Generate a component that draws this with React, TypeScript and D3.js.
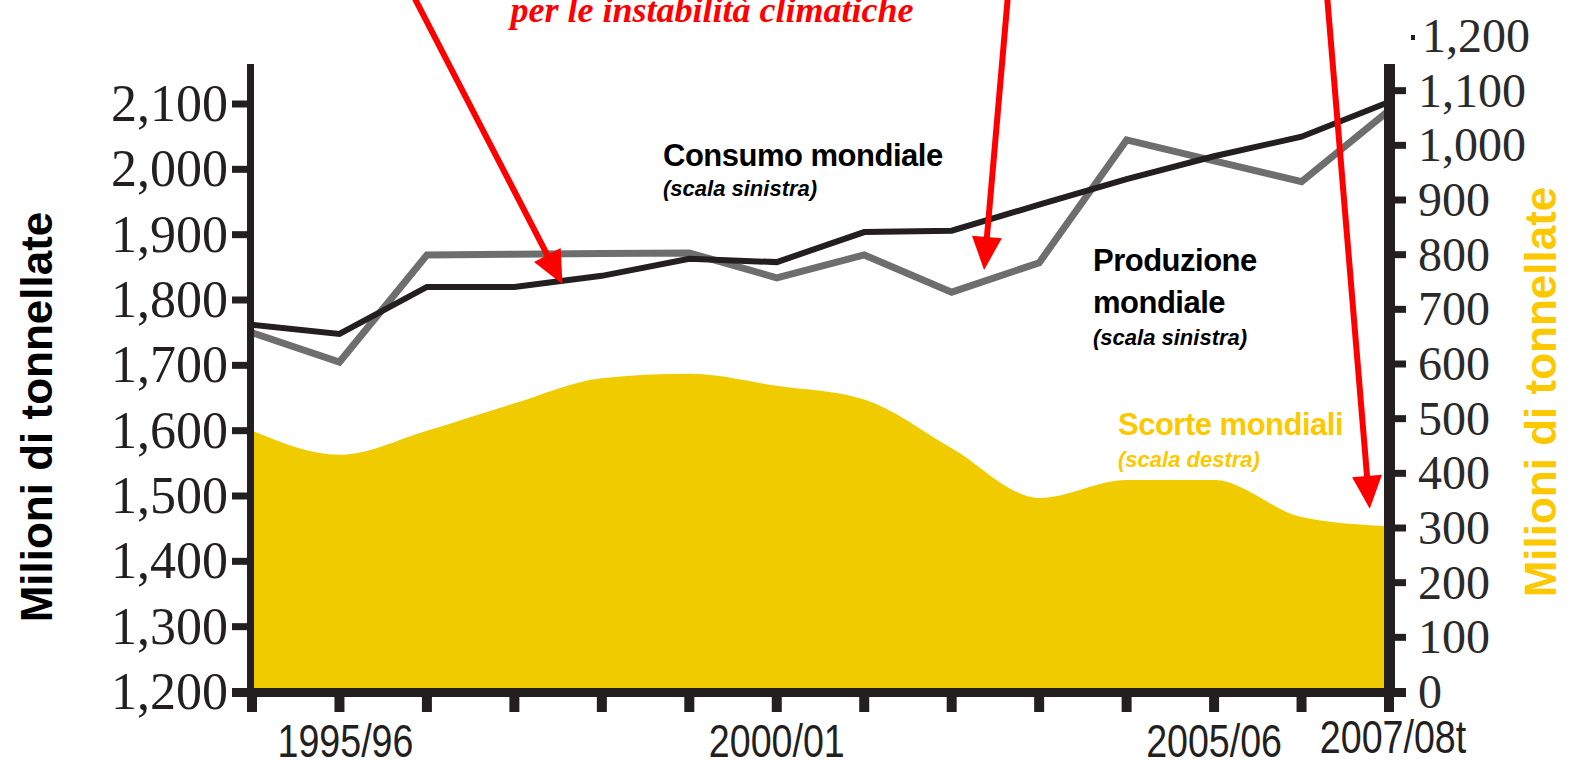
import React, { useRef, useEffect } from 'react';
import * as d3 from 'd3';

// campagne di commercializzazione (asse x)
const seasons = [
    '1994/95', '1995/96', '1996/97', '1997/98', '1998/99', '1999/00', '2000/01',
    '2001/02', '2002/03', '2003/04', '2004/05', '2005/06', '2006/07', '2007/08t',
];
const shownLabels = ['1995/96', '2000/01', '2005/06', '2007/08t'];

// milioni di tonnellate, scala sinistra
const consumption = [1762, 1748, 1820, 1820, 1837, 1863, 1858, 1904, 1906, 1946, 1985, 2020, 2050, 2103];
const production = [1750, 1705, 1869, 1870, 1871, 1872, 1834, 1869, 1812, 1857, 2045, 2013, 1981, 2090];
// milioni di tonnellate, scala destra
const stocks = [478, 434, 478, 528, 574, 582, 560, 535, 446, 355, 388, 388, 320, 303];

const leftTicks = [1200, 1300, 1400, 1500, 1600, 1700, 1800, 1900, 2000, 2100];
const rightTicks = [0, 100, 200, 300, 400, 500, 600, 700, 800, 900, 1000, 1100];
const rightTopLabel = 1200;

const fmt = d3.format(',');

const W = 1571;
const H = 766;

const App: React.FC = () => {
    const svgRef = useRef<SVGSVGElement>(null);

    useEffect(() => {
        const svg = d3.select(svgRef.current);
        svg.selectAll('*').remove();

        const x = d3.scaleLinear().domain([0, seasons.length - 1]).range([252, 1389]);
        const yL = d3.scaleLinear().domain([1200, 2100]).range([692, 104]);
        const yR = d3.scaleLinear().domain([0, 1200]).range([692, 36]);

        const dark = '#231f20';

        // area scorte
        const area = d3.area<number>()
            .x((_, i) => x(i))
            .y0(yR(0))
            .y1(d => yR(d))
            .curve(d3.curveMonotoneX);

        svg.append('clipPath').attr('id', 'plot')
            .append('rect')
            .attr('x', 254).attr('y', 0)
            .attr('width', 1384 - 254).attr('height', 689);

        svg.append('path')
            .datum(stocks)
            .attr('clip-path', 'url(#plot)')
            .attr('fill', '#efcb00')
            .attr('d', area);

        // linee
        const line = d3.line<number>()
            .x((_, i) => x(i))
            .y(d => yL(d));

        svg.append('path')
            .datum(production)
            .attr('fill', 'none')
            .attr('stroke', '#6e6e6e')
            .attr('stroke-width', 7)
            .attr('d', line);

        svg.append('path')
            .datum(consumption)
            .attr('fill', 'none')
            .attr('stroke', dark)
            .attr('stroke-width', 6)
            .attr('d', line);

        // asse sinistro
        svg.append('rect').attr('x', 247).attr('y', 64).attr('width', 7).attr('height', 633).attr('fill', dark);
        svg.selectAll('.ltick').data(leftTicks).enter().append('rect')
            .attr('x', 232).attr('y', d => yL(d) - 3.5)
            .attr('width', 18).attr('height', 7).attr('fill', dark);
        svg.selectAll('.llab').data(leftTicks).enter().append('text')
            .attr('x', 228).attr('y', d => yL(d))
            .attr('dy', '0.33em')
            .attr('text-anchor', 'end')
            .attr('font-family', '"Liberation Serif", "Times New Roman", serif')
            .attr('font-size', 52)
            .attr('fill', dark)
            .text(d => fmt(d));

        // asse destro
        svg.append('rect').attr('x', 1384).attr('y', 64).attr('width', 11).attr('height', 633).attr('fill', dark);
        svg.selectAll('.rtick').data(rightTicks).enter().append('rect')
            .attr('x', 1392).attr('y', d => yR(d) - 3.5)
            .attr('width', 14).attr('height', 7).attr('fill', dark);
        svg.selectAll('.rlab').data(rightTicks).enter().append('text')
            .attr('x', 1418).attr('y', d => yR(d))
            .attr('dy', '0.33em')
            .attr('font-family', '"Liberation Serif", "Times New Roman", serif')
            .attr('font-size', 48)
            .attr('fill', '#2a2a2a')
            .text(d => fmt(d));
        svg.append('text')
            .attr('x', 1422).attr('y', yR(rightTopLabel))
            .attr('dy', '0.33em')
            .attr('font-family', '"Liberation Serif", "Times New Roman", serif')
            .attr('font-size', 48)
            .attr('fill', '#2a2a2a')
            .text(fmt(rightTopLabel));
        svg.append('rect').attr('x', 1411).attr('y', yR(rightTopLabel) - 1).attr('width', 4).attr('height', 5).attr('fill', dark);

        // asse x
        svg.append('rect').attr('x', 232).attr('y', 688).attr('width', 1406 - 232).attr('height', 9).attr('fill', dark);
        svg.selectAll('.xtick').data(seasons).enter().append('rect')
            .attr('x', (_, i) => x(i) - 5).attr('y', 690)
            .attr('width', 10).attr('height', 22).attr('fill', dark);
        svg.selectAll('.xlab').data(shownLabels).enter().append('text')
            .attr('transform', d => {
                const cx = x(seasons.indexOf(d)) + (d === '1995/96' ? 6 : d === '2007/08t' ? 4 : 0);
                const by = d === '2007/08t' ? 753 : 757;
                return `translate(${cx},${by}) scale(0.8,1)`;
            })
            .attr('text-anchor', 'middle')
            .attr('font-family', '"Liberation Sans", Arial, sans-serif')
            .attr('font-size', 47)
            .attr('fill', dark)
            .text(d => d);

        // titoli assi
        svg.append('text')
            .attr('transform', 'translate(52,417) rotate(-90)')
            .attr('text-anchor', 'middle')
            .attr('font-family', '"Liberation Sans", Arial, sans-serif')
            .attr('font-weight', 'bold')
            .attr('font-size', 44)
            .attr('fill', '#000')
            .text('Milioni di tonnellate');
        svg.append('text')
            .attr('transform', 'translate(1556,392) rotate(-90)')
            .attr('text-anchor', 'middle')
            .attr('font-family', '"Liberation Sans", Arial, sans-serif')
            .attr('font-weight', 'bold')
            .attr('font-size', 44)
            .attr('fill', '#fcc800')
            .text('Milioni di tonnellate');

        // etichette serie
        const labels = [
            { t: 'Consumo mondiale', x: 663, y: 166, size: 31, italic: false, color: '#000' },
            { t: '(scala sinistra)', x: 663, y: 196, size: 22, italic: true, color: '#000' },
            { t: 'Produzione', x: 1093, y: 271, size: 31, italic: false, color: '#000' },
            { t: 'mondiale', x: 1093, y: 313, size: 31, italic: false, color: '#000' },
            { t: '(scala sinistra)', x: 1093, y: 345, size: 22, italic: true, color: '#000' },
            { t: 'Scorte mondiali', x: 1118, y: 435, size: 31, italic: false, color: '#fcc800' },
            { t: '(scala destra)', x: 1118, y: 467, size: 22, italic: true, color: '#fcc800' },
        ];
        svg.selectAll('.slab').data(labels).enter().append('text')
            .attr('x', d => d.x).attr('y', d => d.y)
            .attr('font-family', '"Liberation Sans", Arial, sans-serif')
            .attr('font-weight', 'bold')
            .attr('font-style', d => (d.italic ? 'italic' : 'normal'))
            .attr('font-size', d => d.size)
            .attr('letter-spacing', d => (d.italic ? 0 : -0.5))
            .attr('fill', d => d.color)
            .text(d => d.t);

        // annotazione in rosso
        svg.append('text')
            .attr('x', 712).attr('y', 22)
            .attr('text-anchor', 'middle')
            .attr('font-family', '"Liberation Serif", "Times New Roman", serif')
            .attr('font-weight', 'bold')
            .attr('font-style', 'italic')
            .attr('font-size', 36)
            .attr('fill', '#ff0000')
            .text('per le instabilità climatiche');

        // frecce: partenza in pixel sopra il bordo, punta in coordinate dati
        const arrows = [
            { from: [413, -5], to: [x(3.55), yL(1824)] },
            { from: [1008, -5], to: [x(8.37), yL(1846)] },
            { from: [1327, -5], to: [x(12.78), yR(335)] },
        ];
        const red = '#ff0000';
        arrows.forEach(a => {
            const [x0, y0] = a.from;
            const [x1, y1] = a.to;
            const len = Math.hypot(x1 - x0, y1 - y0);
            const ux = (x1 - x0) / len;
            const uy = (y1 - y0) / len;
            const L = 33;
            const hw = 15;
            const bx = x1 - ux * L;
            const by = y1 - uy * L;
            svg.append('line')
                .attr('x1', x0).attr('y1', y0)
                .attr('x2', bx + ux * 2).attr('y2', by + uy * 2)
                .attr('stroke', red).attr('stroke-width', 6);
            svg.append('path')
                .attr('d', `M${x1},${y1}L${bx - uy * hw},${by + ux * hw}L${bx + uy * hw},${by - ux * hw}Z`)
                .attr('fill', red);
        });
    }, []);

    return (
        <svg
            ref={svgRef}
            width={W}
            height={H}
            style={{ position: 'absolute', left: 0, top: 0, background: '#fff' }}
        />
    );
};

export default App;
